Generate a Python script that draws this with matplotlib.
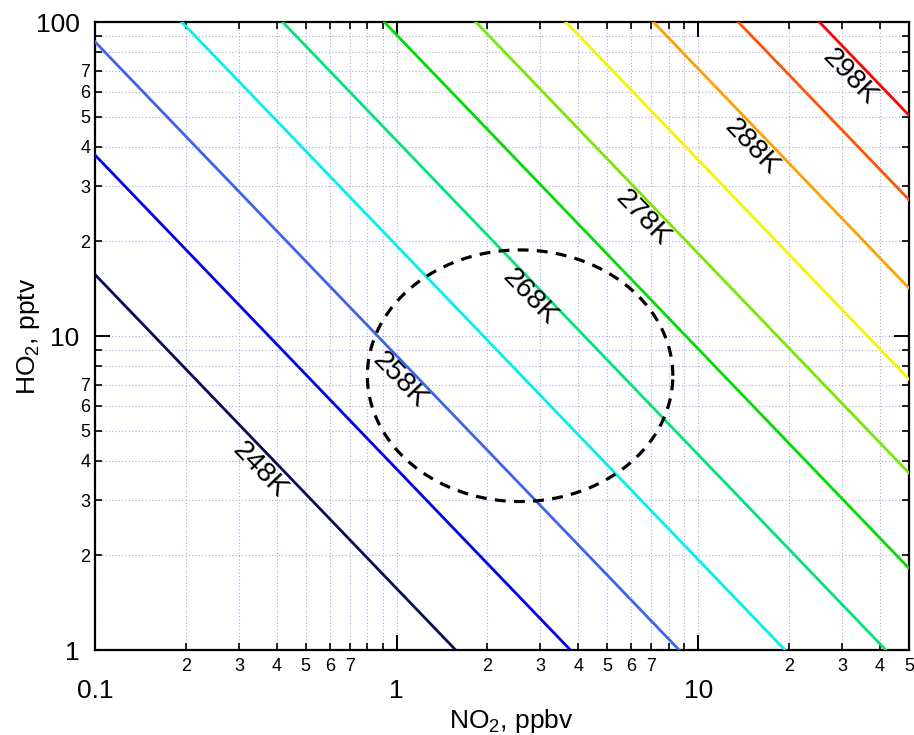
import numpy as np
import matplotlib
matplotlib.use("Agg")
import matplotlib.pyplot as plt
from matplotlib.ticker import LogLocator, FuncFormatter

plt.rcParams['font.family'] = ['Liberation Sans', 'DejaVu Sans']
plt.rcParams['mathtext.fontset'] = 'custom'
plt.rcParams['mathtext.rm'] = 'Liberation Sans'

# ---- data ----
temperatures_K = [248, 253, 258, 263, 268, 273, 278, 283, 288, 293, 298]
# HO2 (pptv) x NO2 (ppbv) product for each isotherm
products = [1.57, 3.77, 8.65, 19.4, 41.9, 91.0, 183, 364, 710, 1358, 2522]
line_colors = ['#0b0b55', '#0000ee', '#3d63f0', '#00f0f0', '#00e47a', '#00dd00',
               '#78e800', '#f5f500', '#ffa000', '#ff5500', '#ff0000']
labeled_temps = [248, 258, 268, 278, 288, 298]
label_no2 = [0.352, 1.026, 2.77, 6.56, 15.07, 31.9]
label_ho2 = [3.74, 7.24, 13.3, 23.8, 40.0, 66.9]
# dashed region (NO2 range, HO2 range)
region_no2 = [0.80, 8.24]
region_ho2 = [2.97, 18.8]

x_lim = [0.1, 50]
y_lim = [1, 100]

fig = plt.figure(figsize=(9.14, 7.35), dpi=100)
ax = fig.add_axes([95/914, 85/735, 814/914, 628/735])
ax.set_xscale('log')
ax.set_yscale('log')
ax.set_xlim(x_lim)
ax.set_ylim(y_lim)

x = np.geomspace(0.05, 100, 400)
for T, c, col in zip(temperatures_K, products, line_colors):
    ax.plot(x, c / x, color=col, lw=2.0, zorder=3)

# dashed ellipse in log space
t = np.linspace(0, 2*np.pi, 400)
lx0, lx1 = np.log10(region_no2)
ly0, ly1 = np.log10(region_ho2)
cx, rx = (lx0+lx1)/2, (lx1-lx0)/2
cy, ry = (ly0+ly1)/2, (ly1-ly0)/2
ax.plot(10**(cx + rx*np.cos(t)), 10**(cy + ry*np.sin(t)), color='black',
        lw=2.3, dashes=(3.4, 2.6), zorder=4)

# rotation parallel to isotherms
fig.canvas.draw()
p1 = ax.transData.transform((1, 10))
p2 = ax.transData.transform((10, 1))
angle = np.degrees(np.arctan2(p2[1]-p1[1], p2[0]-p1[0]))
for T, lx, ly in zip(labeled_temps, label_no2, label_ho2):
    ax.text(lx, ly, f'{T}K', rotation=angle, rotation_mode='anchor',
            ha='center', va='center', fontsize=20.5, color='black', zorder=5)

# ticks
ax.xaxis.set_major_locator(LogLocator(base=10, subs=(1.0,)))
ax.yaxis.set_major_locator(LogLocator(base=10, subs=(1.0,)))
ax.xaxis.set_minor_locator(LogLocator(base=10, subs=np.arange(2, 10)))
ax.yaxis.set_minor_locator(LogLocator(base=10, subs=np.arange(2, 10)))

def major_fmt(v, pos):
    return f'{v:g}'

def minor_fmt(v, pos):
    d = int(round(v / 10**np.floor(np.log10(v) + 1e-9)))
    return str(d) if 2 <= d <= 7 else ''

ax.xaxis.set_major_formatter(FuncFormatter(major_fmt))
ax.yaxis.set_major_formatter(FuncFormatter(major_fmt))
ax.xaxis.set_minor_formatter(FuncFormatter(minor_fmt))
ax.yaxis.set_minor_formatter(FuncFormatter(minor_fmt))

ax.tick_params(which='both', direction='in', top=True, right=True, colors='black')
ax.tick_params(which='major', length=11, width=1.4, labelsize=19)
ax.tick_params(which='minor', length=5, width=1.2, labelsize=13)
ax.tick_params(axis='x', which='major', pad=21)
ax.tick_params(axis='x', which='minor', pad=6)
ax.tick_params(axis='y', which='major', pad=11)
ax.tick_params(axis='y', which='minor', pad=3.5)

ax.grid(True, which='both', color='#a8a8ea', lw=0.8, ls=(0, (1, 2)), zorder=0)
for s in ax.spines.values():
    s.set_linewidth(1.6)
    s.set_color('black')

ax.set_xlabel(r'NO$_\mathregular{2}$, ppbv', fontsize=19)
ax.set_ylabel(r'HO$_\mathregular{2}$, pptv', fontsize=19)
ax.xaxis.set_label_coords(0.511, -0.09)
ax.yaxis.set_label_coords(-0.065, 0.5)

fig.savefig('out.png', dpi=100)
